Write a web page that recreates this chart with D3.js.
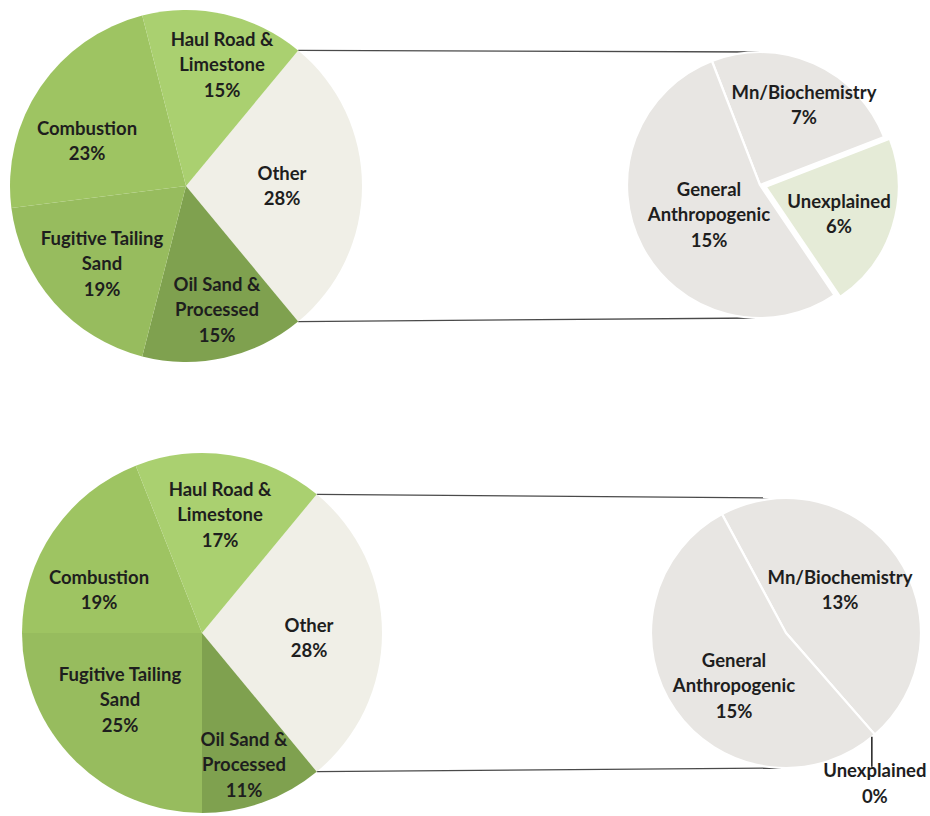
<!DOCTYPE html>
<html>
<head>
<meta charset="utf-8">
<script src="https://cdn.jsdelivr.net/npm/d3@7"></script>
<style>
  html, body { margin: 0; padding: 0; background: #ffffff; }
  svg { display: block; }
  text { font-family: "Lato", "Open Sans", sans-serif; font-weight: 700; fill: #1e1e1e; }
</style>
</head>
<body>
<svg id="chart" width="930" height="816"></svg>
<script>
// ---------------- DATA ----------------
const primaryCategories = ["Other", "Oil Sand & Processed", "Fugitive Tailing Sand", "Combustion", "Haul Road & Limestone"];
const primaryLabelLines = [["Other"], ["Oil Sand &", "Processed"], ["Fugitive Tailing", "Sand"], ["Combustion"], ["Haul Road &", "Limestone"]];
const primaryValuesTop = [28, 15, 19, 23, 15];
const primaryValuesBottom = [28, 11, 25, 19, 17];

const secondaryCategories = ["Mn/Biochemistry", "Unexplained", "General Anthropogenic"];
const secondaryLabelLines = [["Mn/Biochemistry"], ["Unexplained"], ["General", "Anthropogenic"]];
const secondaryValuesTop = [7, 6, 15];
const secondaryValuesBottom = [13, 0, 15];

// ---------------- STYLE / LAYOUT ----------------
const primaryColors = ["#f0efe7", "#7fa14f", "#97bc5e", "#9ec462", "#aad070"];
const secondaryColors = ["#e8e6e3", "#e5ebd7", "#e8e6e3"];
const deg = Math.PI / 180;

const panels = [
  {
    pValues: primaryValuesTop, sValues: secondaryValuesTop,
    pc: [186, 186], pr: 176,
    sc: [760, 185], sr: 133, sStart: -21.2,
    explode: [0, 6, 0],
    pLabelOff: [[96, 0], [31, 124], [-84, 78], [-99, -45], [36, -121]],
    sLabelOff: [[44, -80], [79, 29], [-51, 30]],
    leader: null
  },
  {
    pValues: primaryValuesBottom, sValues: secondaryValuesBottom,
    pc: [202, 633], pr: 180,
    sc: [786, 633], sr: 135, sStart: -28.3,
    explode: [0, 0, 0],
    pLabelOff: [[107, 5], [42, 132], [-82, 67], [-103, -43], [18, -118]],
    sLabelOff: [[54, -43], [0, 0], [-52, 53]],
    leader: { index: 1, length: 30, labelDy: 46 }
  }
];

const svg = d3.select("#chart");
const lineH = 25.5;
const fontSize = 18.5;
const pct = v => d3.format(".0%")(v / 100);

function drawLabel(g, x, y, lines) {
  const t = g.append("text").attr("text-anchor", "middle").attr("font-size", fontSize);
  const y0 = y - (lines.length - 1) * lineH / 2;
  lines.forEach((ln, i) => {
    t.append("tspan").attr("x", x).attr("y", y0 + i * lineH).attr("dy", "0.35em").text(ln);
  });
}

panels.forEach(p => {
  const g = svg.append("g");
  const pTotal = d3.sum(p.pValues);
  const otherAngle = p.pValues[0] / pTotal * 2 * Math.PI;
  const pStart = Math.PI / 2 - otherAngle / 2;

  const pie = d3.pie().sort(null).value(d => d).startAngle(pStart).endAngle(pStart + 2 * Math.PI);
  const pArcs = pie(p.pValues);
  const pArc = d3.arc().innerRadius(0).outerRadius(p.pr);

  // connector lines (from Other slice edges to top/bottom of secondary pie)
  const other = pArcs[0];
  const pt = a => [p.pc[0] + p.pr * Math.sin(a), p.pc[1] - p.pr * Math.cos(a)];
  const a1 = pt(other.startAngle), a2 = pt(other.endAngle);
  g.append("line").attr("x1", a1[0]).attr("y1", a1[1]).attr("x2", p.sc[0]).attr("y2", p.sc[1] - p.sr)
    .attr("stroke", "#4a4a4a").attr("stroke-width", 1.3);
  g.append("line").attr("x1", a2[0]).attr("y1", a2[1]).attr("x2", p.sc[0]).attr("y2", p.sc[1] + p.sr)
    .attr("stroke", "#4a4a4a").attr("stroke-width", 1.3);

  const pg = g.append("g").attr("transform", `translate(${p.pc[0]},${p.pc[1]})`);
  pg.selectAll("path").data(pArcs).join("path")
    .attr("d", pArc)
    .attr("fill", (d, i) => primaryColors[i]);

  pArcs.forEach((d, i) => {
    drawLabel(g, p.pc[0] + p.pLabelOff[i][0], p.pc[1] + p.pLabelOff[i][1],
      primaryLabelLines[i].concat([pct(d.data)]));
  });

  // secondary pie
  const sStart = p.sStart * deg;
  const sPie = d3.pie().sort(null).value(d => d).startAngle(sStart).endAngle(sStart + 2 * Math.PI);
  const sArcs = sPie(p.sValues);
  const sArc = d3.arc().innerRadius(0).outerRadius(p.sr);
  const sg = g.append("g").attr("transform", `translate(${p.sc[0]},${p.sc[1]})`);
  sg.selectAll("path").data(sArcs).join("path")
    .attr("d", sArc)
    .attr("transform", (d, i) => {
      const m = (d.startAngle + d.endAngle) / 2;
      const e = p.explode[i];
      return `translate(${e * Math.sin(m)},${-e * Math.cos(m)})`;
    })
    .attr("fill", (d, i) => secondaryColors[i])
    .attr("stroke", "#ffffff")
    .attr("stroke-width", 2.2)
    .attr("stroke-linejoin", "round");

  sArcs.forEach((d, i) => {
    if (p.leader && p.leader.index === i) {
      const a = d.startAngle;
      const x = p.sc[0] + p.sr * Math.sin(a) - 3;
      const y = p.sc[1] - p.sr * Math.cos(a) + 2;
      g.append("line").attr("x1", x).attr("y1", y).attr("x2", x).attr("y2", y + p.leader.length)
        .attr("stroke", "#1e1e1e").attr("stroke-width", 1.5);
      drawLabel(g, x + 3, y + p.leader.labelDy + lineH / 2 - 12, [secondaryLabelLines[i][0], pct(d.data)]);
      return;
    }
    drawLabel(g, p.sc[0] + p.sLabelOff[i][0], p.sc[1] + p.sLabelOff[i][1],
      secondaryLabelLines[i].concat([pct(d.data)]));
  });
});
</script>
</body>
</html>
